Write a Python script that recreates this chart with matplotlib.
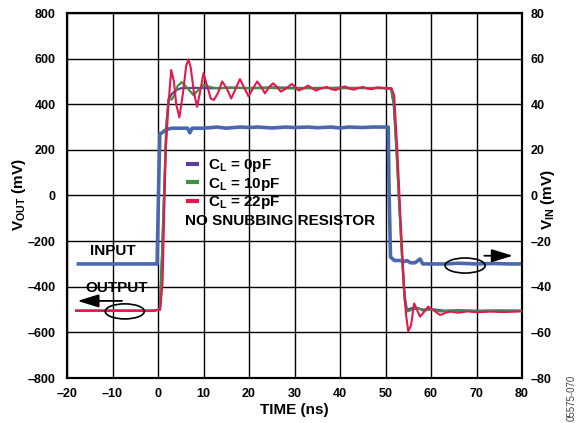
import matplotlib
matplotlib.use("Agg")
import matplotlib.pyplot as plt
from matplotlib.patches import Ellipse
from matplotlib.ticker import FuncFormatter
import numpy as np

plt.rcParams['font.family'] = ['Liberation Sans', 'DejaVu Sans']
plt.rcParams['font.weight'] = 'bold'
plt.rcParams['mathtext.fontset'] = 'custom'
plt.rcParams['mathtext.rm'] = 'Liberation Sans:bold'
plt.rcParams['mathtext.it'] = 'Liberation Sans:bold'
plt.rcParams['mathtext.bf'] = 'Liberation Sans:bold'

# ---- data ----
# input (V_IN, mV, right axis)
t_in = [-17.5, -1.0, -0.2, 0.1, 0.4, 0.9, 1.5, 2.0, 3.0, 5.0, 6.5, 7.0, 7.5, 10, 13, 15, 18, 20, 22, 25, 28,
        30, 33, 35, 38, 40, 42, 45, 47, 49, 50.6, 50.8, 51.1, 52.0, 53.2, 54.0, 54.7, 55.5, 56.5, 57.6, 58.2,
        60, 63, 66, 70, 74, 77, 79.5]
v_in = [-30, -30, -30, 0, 27, 27.5, 28.5, 29, 29.5, 29.5, 29.5, 27.5, 29.5, 29.5, 30, 29.5, 30, 29.8, 30, 29.6, 30,
        29.8, 30, 29.7, 30, 29.6, 30, 29.8, 30, 30, 30, 0, -27, -28.5, -28.5, -29, -28.5, -29.5, -29.5, -27.8, -30,
        -30, -30, -29.7, -30, -29.8, -30, -30]

# output, CL = 0pF (V_OUT, mV)
t_0 = [-18, -1, 0.4, 0.9, 1.4, 1.8, 2.3, 3.0, 4.0, 5.0, 8, 12, 16, 20, 25, 30, 35, 40, 45, 49,
       51.2, 51.8, 52.4, 53.0, 53.6, 54.2, 54.7, 55.5, 56.5, 58, 60, 63, 66, 70, 75, 80]
v_0 = [-505, -505, -500, -250, 50, 300, 420, 445, 462, 470, 472, 470, 473, 471, 474, 472, 470, 473, 471, 472,
       470, 400, 200, -30, -250, -440, -500, -496, -490, -500, -498, -505, -503, -505, -504, -505]

# output, CL = 10pF
t_10 = [-18, -1, 0.4, 0.9, 1.4, 1.9, 2.4, 3.0, 3.6, 4.3, 5.2, 6.5, 7.8, 9.0, 10.0, 11.5, 13, 16, 20, 25, 30,
        35, 40, 45, 49, 51.3, 51.9, 52.5, 53.1, 53.7, 54.2, 54.7, 55.5, 56.3, 57.1, 58.2, 60, 62, 65, 70, 75, 80]
v_10 = [-505, -505, -500, -260, 40, 320, 430, 420, 440, 480, 497, 470, 440, 465, 485, 475, 470, 472, 470, 471,
        469, 472, 470, 471, 470, 468, 390, 170, -70, -300, -460, -509, -503, -498, -493, -505, -500, -508, -505,
        -507, -505, -506]

# output, CL = 22pF
t_22 = [-18, -1, 0.5, 1.0, 1.7, 2.3, 2.9, 3.5, 4.0, 4.7, 5.5, 6.2, 6.7, 7.2, 7.9, 8.6, 9.3, 10.0, 10.8, 11.6,
        12.3, 13.2, 14.1, 15.1, 16.1, 17.1, 18.0, 19.0, 19.9, 20.9, 21.8, 22.7, 23.5, 24.4, 25.3, 26.2, 27.0,
        28.2, 29.4, 30.2, 30.9, 32.0, 33.0, 33.9, 34.7, 35.9, 37.1, 38.1, 39.1, 40.1, 41.1, 42.1, 43.1, 44.1,
        45.1, 46.1, 47.1, 48.1, 49.2, 50.2, 51.3, 51.9, 52.6, 53.3, 54.0, 54.5, 55.0, 55.6, 56.3, 57.0, 57.6,
        58.5, 59.4, 60.7, 62.0, 63.1, 64.2, 66, 68, 70, 73, 76, 80]
v_22 = [-505, -505, -500, -380, 200, 400, 550, 500, 400, 342, 450, 570, 596, 560, 450, 389, 460, 536, 480, 425,
        419, 450, 500, 470, 425, 470, 510, 470, 435, 470, 500, 475, 448, 475, 492, 475, 455,
        470, 489, 475, 460, 470, 482, 470, 460, 470, 476, 466, 462, 472, 478, 468, 464, 472,
        476, 468, 466, 474, 472, 470, 470, 440, 200, -100, -380, -520, -595, -570, -473, -505, -531,
        -510, -487, -505, -524, -515, -509, -514, -508, -512, -509, -511, -508]

x_ticks = [-20, -10, 0, 10, 20, 30, 40, 50, 60, 70, 80]
yl_ticks = [-800, -600, -400, -200, 0, 200, 400, 600, 800]
yr_ticks = [-80, -60, -40, -20, 0, 20, 40, 60, 80]
legend_labels = [r'$\mathrm{C_L}$ = 0pF', r'$\mathrm{C_L}$ = 10pF', r'$\mathrm{C_L}$ = 22pF']

c_in = '#4A68AE'
c_0 = '#5B3F9C'
c_10 = '#3C9243'
c_22 = '#E3184C'

# ---- figure ----
fig = plt.figure(figsize=(5.79, 4.23), dpi=100)
ax = fig.add_axes([67/579, 45/423, 455/579, 365/423])
ax2 = ax.twinx()
ax2.patch.set_visible(False)

ax.set_xlim(-20, 80)
ax.set_ylim(-800, 800)
ax2.set_ylim(-80, 80)
ax.set_xticks(x_ticks)
ax.set_yticks(yl_ticks)
ax2.set_yticks(yr_ticks)

fmt = FuncFormatter(lambda v, p: ('%d' % v).replace('-', '\u2013'))
ax.xaxis.set_major_formatter(fmt)
ax.yaxis.set_major_formatter(fmt)
ax2.yaxis.set_major_formatter(fmt)

ax.grid(True, color='black', linewidth=1.0)
ax.set_axisbelow(True)
for a in (ax, ax2):
    for s in a.spines.values():
        s.set_linewidth(1.5)
ax.tick_params(axis='both', length=0, labelsize=9, pad=8)
ax.tick_params(axis='x', pad=7)
ax2.tick_params(axis='y', length=0, labelsize=9, pad=6)

ax2.plot(t_in, v_in, color=c_in, lw=2.6, zorder=2)
l0, = ax2.plot(t_0, v_0, color=c_0, lw=1.6, transform=ax.transData, zorder=3)
l10, = ax2.plot(t_10, v_10, color=c_10, lw=1.6, transform=ax.transData, zorder=4)
l22, = ax2.plot(t_22, v_22, color=c_22, lw=1.5, transform=ax.transData, zorder=5)
ax2.set_ylim(-80, 80)
ax.set_xlim(-20, 80)

leg = ax2.legend([l0, l10, l22], legend_labels, loc='upper left', bbox_to_anchor=(0.236, 0.642),
                 frameon=False, handlelength=0.6, handletextpad=0.7, labelspacing=0.08,
                 prop={'size': 11, 'weight': 'bold'})
for h in leg.legend_handles:
    h.set_linewidth(3)
ax.text(6.0, -110, 'NO SNUBBING RESISTOR', fontsize=11, fontweight='bold', va='center', ha='left')

ax.text(-10, -242, 'INPUT', fontsize=11, fontweight='bold', ha='center', va='center')
ax.text(-9, -406, 'OUTPUT', fontsize=11, fontweight='bold', ha='center', va='center')

ax2.add_patch(Ellipse((-7.3, -508), 8.6, 66, transform=ax.transData, fill=False, ec='black', lw=1.2, zorder=6))
ax2.add_patch(Ellipse((67.5, -307), 8.8, 66, transform=ax.transData, fill=False, ec='black', lw=1.2, zorder=6))
ax2.annotate('', xy=(-18.3, -462), xytext=(-7.3, -462), xycoords=ax.transData, textcoords=ax.transData,
             arrowprops=dict(arrowstyle='-|>,head_length=1.3,head_width=0.4', color='black', lw=1.3), zorder=6)
ax2.annotate('', xy=(78.6, -264), xytext=(71.1, -264), xycoords=ax.transData, textcoords=ax.transData,
             arrowprops=dict(arrowstyle='-|>,head_length=1.3,head_width=0.4', color='black', lw=1.3), zorder=6)

ax.set_xlabel('TIME (ns)', fontsize=11, fontweight='bold', labelpad=2)
fig.text(19/579, 1 - 195/423, r'$\mathrm{V_{OUT}}$ (mV)', rotation=90, fontsize=11, fontweight='bold',
         ha='center', va='center')
fig.text(548/579, 1 - 200/423, r'$\mathrm{V_{IN}}$ (mV)', rotation=90, fontsize=11, fontweight='bold',
         ha='center', va='center')
fig.text(572/579, 1 - 398/423, '05575-070', rotation=90, fontsize=7, fontweight='normal', color='#444444',
         ha='center', va='center')

fig.savefig('out.png', dpi=100)
